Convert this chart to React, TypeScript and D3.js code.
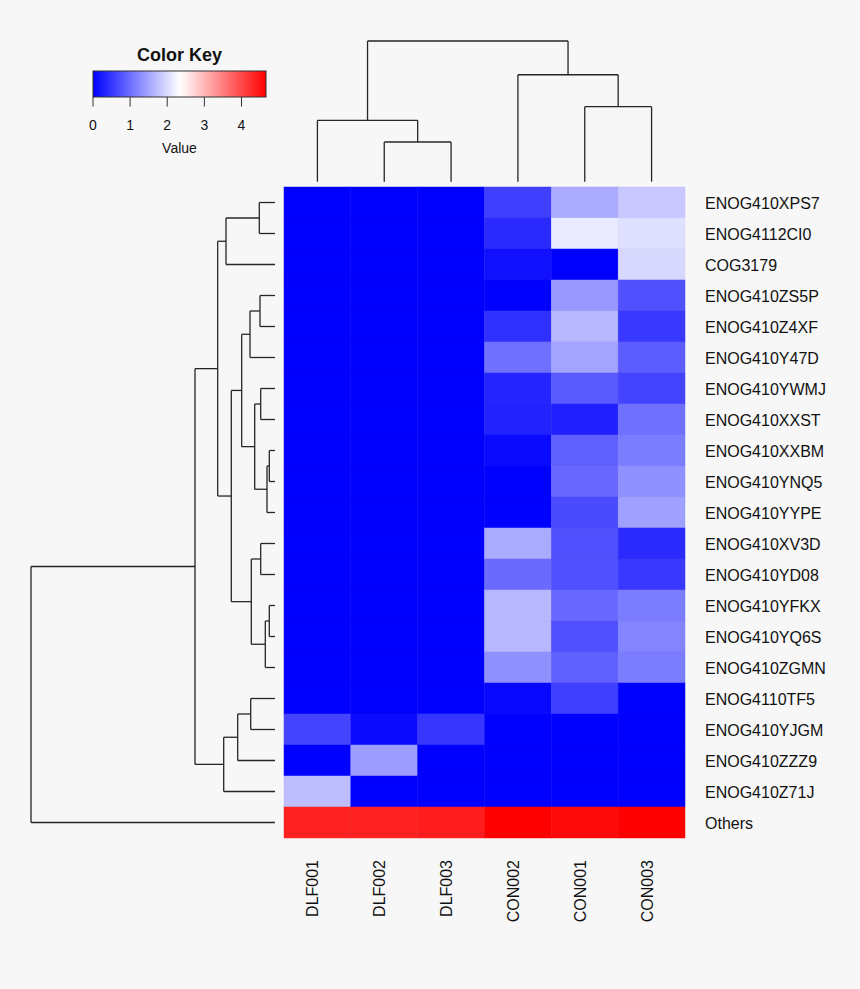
import React from "react";
import * as d3 from "d3";

// ---- Data ----
const rowLabels = [
  "ENOG410XPS7", "ENOG4112CI0", "COG3179", "ENOG410ZS5P", "ENOG410Z4XF",
  "ENOG410Y47D", "ENOG410YWMJ", "ENOG410XXST", "ENOG410XXBM", "ENOG410YNQ5",
  "ENOG410YYPE", "ENOG410XV3D", "ENOG410YD08", "ENOG410YFKX", "ENOG410YQ6S",
  "ENOG410ZGMN", "ENOG4110TF5", "ENOG410YJGM", "ENOG410ZZZ9", "ENOG410Z71J",
  "Others",
];
const colLabels = ["DLF001", "DLF002", "DLF003", "CON002", "CON001", "CON003"];

const DLF001 = [0, 0, 0, 0, 0, 0, 0, 0, 0, 0, 0, 0, 0, 0, 0, 0, 0, 0.62, 0, 1.74, 4.37];
const DLF002 = [0, 0, 0, 0, 0, 0, 0, 0, 0, 0, 0, 0, 0, 0, 0, 0, 0, 0.09, 1.43, 0, 4.37];
const DLF003 = [0, 0, 0, 0, 0, 0, 0, 0, 0, 0, 0, 0, 0, 0, 0, 0, 0, 0.49, 0, 0, 4.4];
const CON002 = [0.58, 0.38, 0.15, 0, 0.44, 1.02, 0.33, 0.31, 0.09, 0, 0, 1.55, 0.97, 1.68, 1.68, 1.32, 0.07, 0, 0, 0, 4.66];
const CON001 = [1.55, 2.15, 0, 1.39, 1.68, 1.5, 0.82, 0.29, 0.88, 0.95, 0.68, 0.73, 0.73, 0.95, 0.73, 0.88, 0.58, 0, 0, 0, 4.57];
const CON003 = [1.83, 2.05, 1.97, 0.73, 0.51, 0.84, 0.62, 1.02, 1.13, 1.32, 1.46, 0.38, 0.51, 1.13, 1.21, 1.13, 0, 0, 0, 0, 4.66];
const columns = [DLF001, DLF002, DLF003, CON002, CON001, CON003];

// hclust-style merges: negative = leaf (1-based display order), positive = earlier merge step
const rowMerge: [number, number][] = [
  [-1, -2], [1, -3], [-4, -5], [3, -6], [-7, -8], [-9, -10], [6, -11], [5, 7],
  [4, 8], [-12, -13], [-14, -15], [11, -16], [10, 12], [9, 13], [2, 14],
  [-17, -18], [16, -19], [17, -20], [15, 18], [19, -21],
];
const rowHeight = [
  15.7, 49, 15, 25, 14.3, 5.7, 8, 20.3, 33.3, 14.3, 5.7, 9.7, 23.7, 43.7, 57.3,
  24.3, 37.3, 51.3, 80, 244,
];
const colMerge: [number, number][] = [[-2, -3], [-1, 1], [-5, -6], [-4, 3], [2, 4]];
const colHeight = [0.282, 0.436, 0.533, 0.76, 1.0];

const keyTicks = [0, 1, 2, 3, 4];
const valueMax = 4.66;

// ---- Layout ----
const W = 860, H = 989;
const hmLeft = 284, hmRight = 685, hmTop = 187, hmBottom = 838;
const FONT = "'Liberation Sans', Arial, Helvetica, sans-serif";

function dendroSegments(
  merge: [number, number][],
  heights: number[],
  leafPos: (i: number) => number
) {
  const pos: number[] = [];
  const segs: { p1: number; h1: number; p2: number; h2: number }[] = [];
  const nodeInfo = (id: number) =>
    id < 0 ? { p: leafPos(-id - 1), h: 0 } : { p: pos[id - 1], h: heights[id - 1] };
  merge.forEach(([a, b], k) => {
    const A = nodeInfo(a), B = nodeInfo(b);
    const h = heights[k];
    segs.push({ p1: A.p, h1: A.h, p2: A.p, h2: h });
    segs.push({ p1: A.p, h1: h, p2: B.p, h2: h });
    segs.push({ p1: B.p, h1: h, p2: B.p, h2: B.h });
    pos[k] = (A.p + B.p) / 2;
  });
  return segs;
}

export default function App() {
  const x = d3.scaleBand<number>().domain(d3.range(colLabels.length)).range([hmLeft, hmRight]);
  const y = d3.scaleBand<number>().domain(d3.range(rowLabels.length)).range([hmTop, hmBottom]);
  const mid = valueMax / 2;
  const color = d3
    .scaleLinear<string>()
    .domain([0, mid, valueMax])
    .range(["#0000ff", "#ffffff", "#ff0000"])
    .interpolate(d3.interpolateRgb)
    .clamp(true);

  const colH = d3.scaleLinear().domain([0, 1]).range([181.7, 41]);
  const rowH = d3.scaleLinear().domain([0, 244]).range([275, 31]);

  const colSegs = dendroSegments(colMerge, colHeight, (i) => x(i)! + x.bandwidth() / 2);
  const rowSegs = dendroSegments(rowMerge, rowHeight, (i) => y(i)! + y.bandwidth() / 2);

  const keyX = d3.scaleLinear().domain([0, valueMax]).range([93, 266]);
  const keyTop = 71, keyBottom = 97;
  const gradStops = d3.range(0, 1.0001, 0.05);

  return (
    <div style={{ position: "absolute", left: 0, top: 0 }}>
      <svg width={W} height={H} style={{ display: "block", fontFamily: FONT }}>
        <defs>
          <linearGradient id="keygrad" x1="0" x2="1" y1="0" y2="0">
            {gradStops.map((t) => (
              <stop key={t} offset={t} stopColor={color(t * valueMax)} />
            ))}
          </linearGradient>
        </defs>
        <rect width={W} height={H} fill="#f7f7f7" />

        {/* heatmap cells */}
        {columns.map((col, c) =>
          col.map((v, r) => (
            <rect
              key={`${c}-${r}`}
              x={x(c)}
              y={y(r)}
              width={x.bandwidth()}
              height={y.bandwidth()}
              fill={color(v)}
              stroke={d3.interpolateRgb(color(v), "#606080")(0.08)}
              strokeWidth={0.5}
            />
          ))
        )}

        {/* column dendrogram */}
        <g stroke="#262626" strokeWidth={1.3} fill="none">
          {colSegs.map((s, i) => (
            <line key={i} x1={s.p1} x2={s.p2} y1={colH(s.h1)} y2={colH(s.h2)} />
          ))}
        </g>

        {/* row dendrogram */}
        <g stroke="#262626" strokeWidth={1.3} fill="none">
          {rowSegs.map((s, i) => (
            <line key={i} y1={s.p1} y2={s.p2} x1={rowH(s.h1)} x2={rowH(s.h2)} />
          ))}
        </g>

        {/* row labels */}
        {rowLabels.map((lab, r) => (
          <text key={lab} x={705} y={y(r)! + y.bandwidth() / 2 + 6} fontSize={16} fill="#111">
            {lab}
          </text>
        ))}

        {/* column labels */}
        {colLabels.map((lab, c) => (
          <text
            key={lab}
            transform={`translate(${x(c)! + x.bandwidth() / 2 + 1},860) rotate(-90)`}
            textAnchor="end"
            fontSize={16}
            fill="#111"
          >
            {lab}
          </text>
        ))}

        {/* color key */}
        <text x={(keyX(0) + keyX(valueMax)) / 2} y={60.5} textAnchor="middle" fontSize={18} fontWeight="bold" fill="#111">
          Color Key
        </text>
        <rect x={keyX(0)} y={keyTop} width={keyX(valueMax) - keyX(0)} height={keyBottom - keyTop} fill="url(#keygrad)" stroke="#333" strokeWidth={1} />
        {keyTicks.map((t) => (
          <g key={t}>
            <line x1={keyX(t)} x2={keyX(t)} y1={keyBottom} y2={106.5} stroke="#333" strokeWidth={1} />
            <text x={keyX(t)} y={130} textAnchor="middle" fontSize={14} fill="#111">
              {t}
            </text>
          </g>
        ))}
        <text x={(keyX(0) + keyX(valueMax)) / 2} y={153} textAnchor="middle" fontSize={14} fill="#111">
          Value
        </text>
      </svg>
    </div>
  );
}
